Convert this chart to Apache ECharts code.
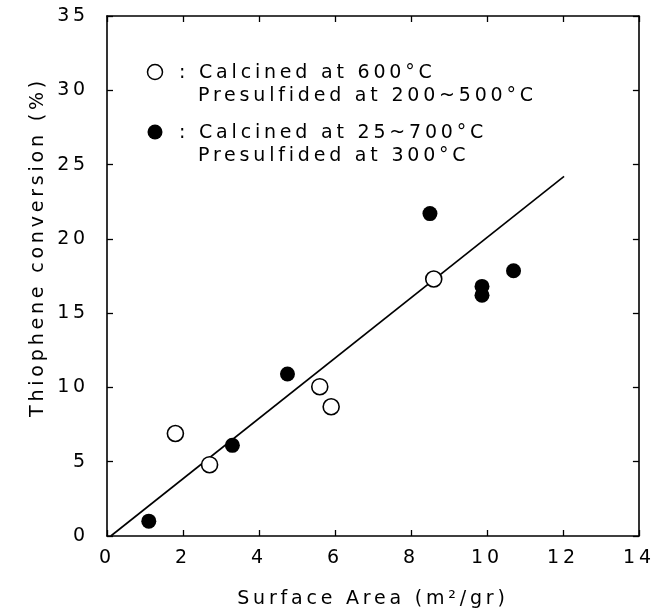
<!DOCTYPE html>
<html>
<head>
<meta charset="utf-8">
<script src="https://cdn.jsdelivr.net/npm/echarts@6/dist/echarts.min.js"></script>
<style>
  html, body { margin: 0; padding: 0; background: #fff; }
  #main { width: 654px; height: 614px; }
</style>
</head>
<body>
<div id="main"></div>
<script>
// open circles: calcined at 600°C, presulfided at 200~500°C
var openX = [1.8, 2.7, 5.6, 5.9, 8.6]
var openY = [6.9, 4.8, 10.05, 8.7, 17.3]
// filled circles: calcined at 25~700°C, presulfided at 300°C
var fillX = [1.1, 3.3, 4.75, 8.5, 9.87, 9.87, 10.7]
var fillY = [1.0, 6.1, 10.9, 21.7, 16.8, 16.2, 17.85]
// fitted line end points
var fitX = [0.1, 12.03]
var fitY = [0, 24.2]

var xTicks = [0, 2, 4, 6, 8, 10, 12, 14]
var yTicks = [0, 5, 10, 15, 20, 25, 30, 35]

function pairs(xs, ys) {
    var out = []
    for (var i = 0; i < xs.length; i++) out.push([xs[i], ys[i]])
    return out
}

var FONT = 'DejaVu Sans'
var TXT = '19px "' + FONT + '"'
var myChart = echarts.init(document.getElementById('main'))

function tick() {
    return { show: true, inside: true, length: 6, lineStyle: { color: '#000', width: 1.3 } }
}
function axLine() {
    return { show: true, onZero: false, lineStyle: { color: '#000', width: 1.6 } }
}
function xAx(pos, labels) {
    return {
        type: 'value', position: pos,
        min: xTicks[0], max: xTicks[xTicks.length - 1], interval: 2,
        axisLine: axLine(), axisTick: tick(), splitLine: { show: false },
        axisLabel: labels ? { show: true, color: '#000', fontSize: 19, margin: 13, fontFamily: FONT } : { show: false }
    }
}
function yAx(pos, labels) {
    return {
        type: 'value', position: pos,
        min: yTicks[0], max: yTicks[yTicks.length - 1], interval: 5,
        axisLine: axLine(), axisTick: tick(), splitLine: { show: false },
        axisLabel: labels ? { show: true, color: '#000', fontSize: 19, margin: 18, fontFamily: FONT } : { show: false }
    }
}

var xBottom = xAx('bottom', true)
xBottom.name = 'Surface Area (m²/gr)'
xBottom.nameLocation = 'middle'
xBottom.nameGap = 54
xBottom.nameTextStyle = { color: '#000', fontSize: 19, fontFamily: FONT }

var option = {
    animation: false,
    backgroundColor: '#fff',
    textStyle: { fontFamily: FONT },
    grid: { left: 107, right: 13, top: 16, bottom: 76 },
    xAxis: [xBottom, xAx('top', false)],
    yAxis: [yAx('left', true), yAx('right', false)],
    graphic: [
        {
            type: 'text',
            x: 38, y: 247,
            rotation: Math.PI / 2,
            style: { text: 'Thiophene conversion (%)', font: TXT, fill: '#000', align: 'center', verticalAlign: 'middle' }
        },
        // legend
        { type: 'circle', shape: { cx: 155, cy: 72, r: 7.5 }, style: { fill: '#fff', stroke: '#000', lineWidth: 1.5 } },
        { type: 'text', x: 179, y: 73, style: { text: ': Calcined at 600°C', font: TXT, fill: '#000', verticalAlign: 'middle' } },
        { type: 'text', x: 198, y: 96, style: { text: 'Presulfided at 200~500°C', font: TXT, fill: '#000', verticalAlign: 'middle' } },
        { type: 'circle', shape: { cx: 155, cy: 132, r: 7.5 }, style: { fill: '#000' } },
        { type: 'text', x: 179, y: 133, style: { text: ': Calcined at 25~700°C', font: TXT, fill: '#000', verticalAlign: 'middle' } },
        { type: 'text', x: 198, y: 156, style: { text: 'Presulfided at 300°C', font: TXT, fill: '#000', verticalAlign: 'middle' } }
    ],
    series: [
        {
            name: 'fit',
            type: 'line',
            data: pairs(fitX, fitY),
            showSymbol: false,
            lineStyle: { color: '#000', width: 1.6 },
            z: 1,
            silent: true
        },
        {
            name: 'Calcined at 600°C',
            type: 'scatter',
            data: pairs(openX, openY),
            symbol: 'circle',
            symbolSize: 16,
            itemStyle: { color: '#fff', borderColor: '#000', borderWidth: 1.6, opacity: 1 },
            z: 3
        },
        {
            name: 'Calcined at 25~700°C',
            type: 'scatter',
            data: pairs(fillX, fillY),
            symbol: 'circle',
            symbolSize: 15,
            itemStyle: { color: '#000', opacity: 1 },
            z: 4
        }
    ]
}

myChart.setOption(option)

// the scanned figure uses a wide, tracked-out font: add letter spacing on the canvas layers and redraw
var layers = myChart.getZr().painter.getLayers ? myChart.getZr().painter.getLayers() : {}
for (var k in layers) {
    if (layers[k].ctx && 'letterSpacing' in layers[k].ctx) layers[k].ctx.letterSpacing = '3.8px'
}
myChart.setOption(option, true)
</script>
</body>
</html>
